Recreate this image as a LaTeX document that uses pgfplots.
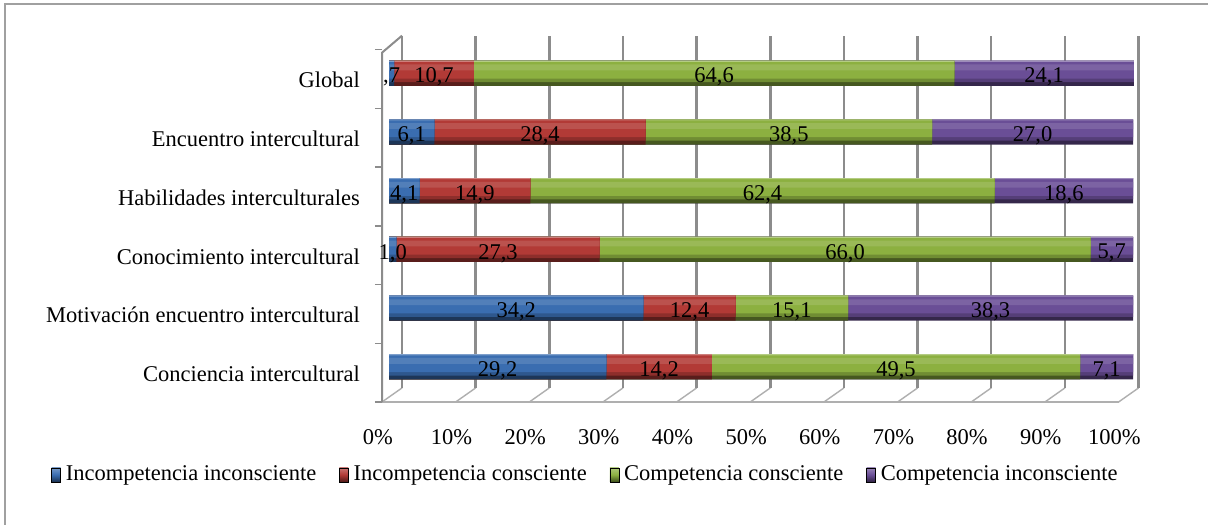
\documentclass[border=0pt]{standalone}
\usepackage{fontspec}
\setmainfont{Liberation Serif}
\usepackage{pgfplots}
\usepackage{pgfplotstable}
\pgfplotsset{compat=1.18}

\definecolor{cA}{RGB}{58,109,176}
\definecolor{cB}{RGB}{178,58,54}
\definecolor{cC}{RGB}{140,176,64}
\definecolor{cD}{RGB}{106,78,150}
\definecolor{gridc}{RGB}{140,140,140}
\definecolor{floorc}{RGB}{175,175,175}
\definecolor{framec}{RGB}{160,160,160}

% percentages per dimension (rows: bottom to top)
\pgfplotstableread{
idx a b c d
0 29.2 14.2 49.5 7.1
1 34.2 12.4 15.1 38.3
2 1.0 27.3 66.0 5.7
3 4.1 14.9 62.4 18.6
4 6.1 28.4 38.5 27.0
5 0.7 10.7 64.6 24.1
}\levels
% running totals and segment midpoints
\pgfplotstablecreatecol[create col/expr={\thisrow{a}+\thisrow{b}}]{ab}{\levels}
\pgfplotstablecreatecol[create col/expr={\thisrow{ab}+\thisrow{c}}]{abc}{\levels}
\pgfplotstablecreatecol[create col/expr={\thisrow{abc}+\thisrow{d}}]{abcd}{\levels}
\pgfplotstablecreatecol[create col/expr={\thisrow{a}/2}]{ma}{\levels}
\pgfplotstablecreatecol[create col/expr={\thisrow{a}+\thisrow{b}/2}]{mb}{\levels}
\pgfplotstablecreatecol[create col/expr={\thisrow{ab}+\thisrow{c}/2}]{mc}{\levels}
\pgfplotstablecreatecol[create col/expr={\thisrow{abc}+\thisrow{d}/2}]{md}{\levels}

\pgfplotsset{
  /pgf/number format/assume math mode=true,
  % one cylinder layer: colour, thickness, vertical offset
  cyl/.style n args={3}{xbar, bar width=#2, bar shift=#3, draw=none, fill=#1, forget plot},
  lbl/.style={only marks, mark=*, mark size=0pt,
    mark options={draw=none, fill=none}, forget plot, point meta=explicit,
    nodes near coords={\pgfmathprintnumber[fixed, fixed zerofill, precision=1,
      use comma, skip 0.]{\pgfplotspointmeta}},
    every node near coord/.style={anchor=center, yshift=-4bp, text=black, inner sep=0pt}},
  lgimg/.style={legend image code/.code={\path[top color=#1!70!white,
      bottom color=#1!45!black, middle color=#1] (0bp,-7bp) rectangle (9bp,7bp);}},
}
% a shaded cylinder built from stacked layers
\newcommand\cylinder[2]{%
  \addplot[cyl={#1!50!black}{0.43}{0}] table[x=#2, y=idx] {\levels};
  \addplot[cyl={#1!80!black}{0.36}{0.03}] table[x=#2, y=idx] {\levels};
  \addplot[cyl={#1}{0.30}{0.06}] table[x=#2, y=idx] {\levels};
  \addplot[cyl={#1!88!white}{0.10}{0.10}] table[x=#2, y=idx] {\levels};
  \addplot[cyl={#1!65!white}{0.02}{0.205}] table[x=#2, y=idx] {\levels};
}

\begin{document}
\fontsize{22.5bp}{27bp}\selectfont
\begin{tikzpicture}
\useasboundingbox (0,0) rectangle (1208bp,525bp);
\fill[white] (0,0) rectangle (1208bp,525bp);
\draw[framec, line width=2bp] (5bp,0) -- (5bp,521bp) -- (1208bp,521bp);
\begin{axis}[
  at={(374.12bp,123bp)}, anchor=south west,
  scale only axis, width=758.88bp, height=364bp,
  xmin=-2, xmax=100, ymin=-0.6, ymax=5.6,
  clip=false,
  axis line style={draw=none}, tick style={draw=none},
  xtick={-1.5,8.4,18.3,28.2,38.1,48.0,57.9,67.8,77.7,87.6,97.5},
  xticklabels={0\%,10\%,20\%,30\%,40\%,50\%,60\%,70\%,80\%,90\%,100\%},
  xticklabel style={anchor=center, yshift=-35bp},
  ytick={0,1,2,3,4,5},
  yticklabels={Conciencia intercultural, Motivación encuentro intercultural,
    Conocimiento intercultural, Habilidades interculturales,
    Encuentro intercultural, Global},
  yticklabel style={anchor=east, xshift=-6.6bp, yshift=-7bp},
  legend style={at={(0.2805,-0.2)}, anchor=center, draw=none, fill=none,
    legend columns=4, legend cell align=left,
    /tikz/every even column/.append style={column sep=18bp},
    nodes={inner xsep=5bp, inner ysep=1bp}},
]
% back wall, floor and side wall of the 3-D frame
\pgfplotsinvokeforeach{0,1,2,3,4,5,6,7,8,9,10}{
  \draw[floorc, line width=1.4bp] (axis cs:{9.9*#1-0.94},-0.6) -- (axis cs:{9.9*#1+1.75},-0.36);
  \draw[gridc, line width=2.4bp] (axis cs:{9.9*#1+1.75},-0.36) -- (axis cs:{9.9*#1+1.75},5.64);
}
\draw[floorc, line width=2bp] (axis cs:-0.94,-0.6) -- (axis cs:98.06,-0.6);
\draw[gridc, line width=2bp] (axis cs:-0.94,-0.6) -- (axis cs:-0.94,5.35) -- (axis cs:1.75,5.64);
\pgfplotsinvokeforeach{0,1,2,3,4,5,6}{
  \draw[gridc, line width=1.5bp] (axis cs:-1.9,{#1-0.6}) -- (axis cs:-0.94,{#1-0.6});
}

% stacked cylinders, drawn back to front as running totals
\cylinder{cD}{abcd}
\cylinder{cC}{abc}
\cylinder{cB}{ab}
\cylinder{cA}{a}

% segment values
\addplot[lbl] table[x=ma, y=idx, meta=a] {\levels};
\addplot[lbl] table[x=mb, y=idx, meta=b] {\levels};
\addplot[lbl] table[x=mc, y=idx, meta=c] {\levels};
\addplot[lbl] table[x=md, y=idx, meta=d] {\levels};

\addlegendimage{lgimg=cA}\addlegendentry{Incompetencia inconsciente}
\addlegendimage{lgimg=cB}\addlegendentry{Incompetencia consciente}
\addlegendimage{lgimg=cC}\addlegendentry{Competencia consciente}
\addlegendimage{lgimg=cD}\addlegendentry{Competencia inconsciente}
\end{axis}
\end{tikzpicture}
\end{document}
